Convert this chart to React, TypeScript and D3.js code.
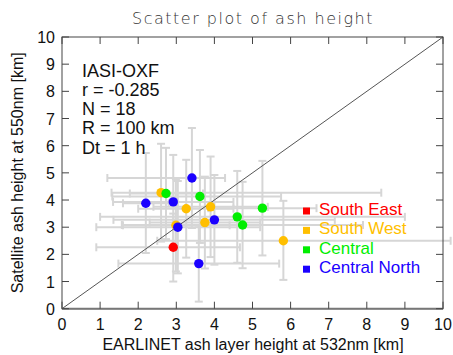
import React from 'react';
import * as d3 from 'd3';

// regions and colours
const regions = ['South East', 'South West', 'Central', 'Central North'];
const regionColors = ['#ff0000', '#ffbf00', '#00ee00', '#1a00ff'];

// one entry per point
const pointRegion = [0, 1, 1, 1, 1, 1, 1, 2, 2, 2, 2, 2, 3, 3, 3, 3, 3, 3];
const earlinet = [2.92, 2.6, 3.26, 3.9, 3.75, 2.99, 5.81, 2.73, 3.62, 5.26, 4.6, 4.74, 2.2, 2.92, 3.41, 4.0, 3.04, 3.59];
const satellite = [2.26, 4.27, 3.68, 3.75, 3.17, 3.07, 2.5, 4.24, 4.13, 3.7, 3.38, 3.08, 3.88, 3.93, 4.81, 3.27, 3.0, 1.66];
const earlinetLow = [0.9, 1.3, 2.0, 2.4, 2.3, 1.6, 2.5, 1.78, 1.32, 3.84, 1.0, 1.57, 1.6, 1.34, 1.19, 1.35, 0.9, 1.48];
const earlinetHigh = [4.67, 8.38, 4.5, 5.4, 5.2, 4.4, 10.2, 3.7, 5.75, 6.68, 9.0, 7.9, 2.8, 4.5, 4.28, 7.16, 5.2, 5.7];
const satelliteLow = [1.0, 2.47, 1.88, 1.9, 1.48, 1.37, 1.06, 2.56, 2.42, 1.96, 1.69, 1.49, 2.05, 2.2, 2.97, 1.62, 1.3, 0.26];
const satelliteHigh = [3.5, 6.07, 5.48, 5.6, 4.86, 4.77, 3.97, 5.92, 5.84, 5.44, 5.07, 4.67, 5.73, 5.66, 6.65, 4.92, 4.7, 3.06];

const statLines = ['IASI-OXF', 'r = -0.285', 'N = 18', 'R = 100 km', 'Dt = 1 h'];
const ticks = d3.range(0, 11);

const App = () => {
  const width = 453;
  const height = 355;
  const x = d3.scaleLinear().domain([0, 10]).range([62, 443]);
  const y = d3.scaleLinear().domain([0, 10]).range([308.7, 37]);
  const tickLen = 7;
  const cap = 4;
  const font = 'Liberation Sans, Arial, Helvetica, sans-serif';
  const barColor = '#d6d6d6';
  const axisColor = '#444';

  return (
    <svg width={width} height={height} style={{ position: 'absolute', left: 0, top: 0 }} fontFamily={font}>
      <rect width={width} height={height} fill="#fff" />

      {/* title */}
      <text x={253} y={24} textAnchor="middle" fontSize={16} letterSpacing={1.5}
        fontFamily="DejaVu Sans, sans-serif" fontWeight={300} fill="#333">
        Scatter plot of ash height
      </text>

      {/* error bars */}
      <g stroke={barColor} strokeWidth={2} fill="none">
        {earlinet.map((v, i) => (
          <g key={i}>
            <line x1={x(earlinetLow[i])} x2={x(earlinetHigh[i])} y1={y(satellite[i])} y2={y(satellite[i])} />
            <line x1={x(earlinetLow[i])} x2={x(earlinetLow[i])} y1={y(satellite[i]) - cap} y2={y(satellite[i]) + cap} />
            <line x1={x(earlinetHigh[i])} x2={x(earlinetHigh[i])} y1={y(satellite[i]) - cap} y2={y(satellite[i]) + cap} />
            <line x1={x(v)} x2={x(v)} y1={y(satelliteLow[i])} y2={y(satelliteHigh[i])} />
            <line x1={x(v) - cap} x2={x(v) + cap} y1={y(satelliteLow[i])} y2={y(satelliteLow[i])} />
            <line x1={x(v) - cap} x2={x(v) + cap} y1={y(satelliteHigh[i])} y2={y(satelliteHigh[i])} />
          </g>
        ))}
      </g>

      {/* 1:1 line */}
      <line x1={x(0)} y1={y(0)} x2={x(10)} y2={y(10)} stroke="#555" strokeWidth={1} />

      {/* points */}
      {earlinet.map((v, i) => (
        <circle key={i} cx={x(v)} cy={y(satellite[i])} r={4.7} fill={regionColors[pointRegion[i]]} />
      ))}

      {/* frame and ticks */}
      <rect x={x(0)} y={y(10)} width={x(10) - x(0)} height={y(0) - y(10)} fill="none" stroke={axisColor} strokeWidth={1} />
      <line x1={x(0)} x2={x(10)} y1={y(0)} y2={y(0)} stroke="#777" strokeWidth={2} />
      <g stroke={axisColor} strokeWidth={1}>
        {ticks.map((t) => (
          <g key={t}>
            <line x1={x(t)} x2={x(t)} y1={y(0)} y2={y(0) - tickLen} />
            <line x1={x(t)} x2={x(t)} y1={y(10)} y2={y(10) + tickLen} />
            <line x1={x(0)} x2={x(0) + tickLen} y1={y(t)} y2={y(t)} />
            <line x1={x(10)} x2={x(10) - tickLen} y1={y(t)} y2={y(t)} />
          </g>
        ))}
      </g>

      {/* tick labels */}
      {ticks.map((t) => (
        <text key={'x' + t} x={x(t)} y={330} textAnchor="middle" fontSize={16} fill="#111">{t}</text>
      ))}
      {ticks.map((t) => (
        <text key={'y' + t} x={55} y={y(t) + 6} textAnchor="end" fontSize={16} fill="#111">{t}</text>
      ))}

      {/* axis titles */}
      <text x={253} y={350} textAnchor="middle" fontSize={16} fill="#111">
        EARLINET ash layer height at 532nm [km]
      </text>
      <text transform={`translate(23,${y(5)}) rotate(-90)`} textAnchor="middle" fontSize={16} fill="#111">
        Satellite ash height at 550nm [km]
      </text>

      {/* statistics */}
      {statLines.map((s, i) => (
        <text key={s} x={82} y={76.5 + i * 19.3} fontSize={18} fill="#111">{s}</text>
      ))}

      {/* legend */}
      {regions.map((r, i) => (
        <g key={r}>
          <rect x={303} y={207.5 + i * 19.4} width={7} height={7} fill={regionColors[i]} />
          <text x={319} y={215 + i * 19.4} fontSize={17} fill={regionColors[i]}>{r}</text>
        </g>
      ))}
    </svg>
  );
};

export default App;
